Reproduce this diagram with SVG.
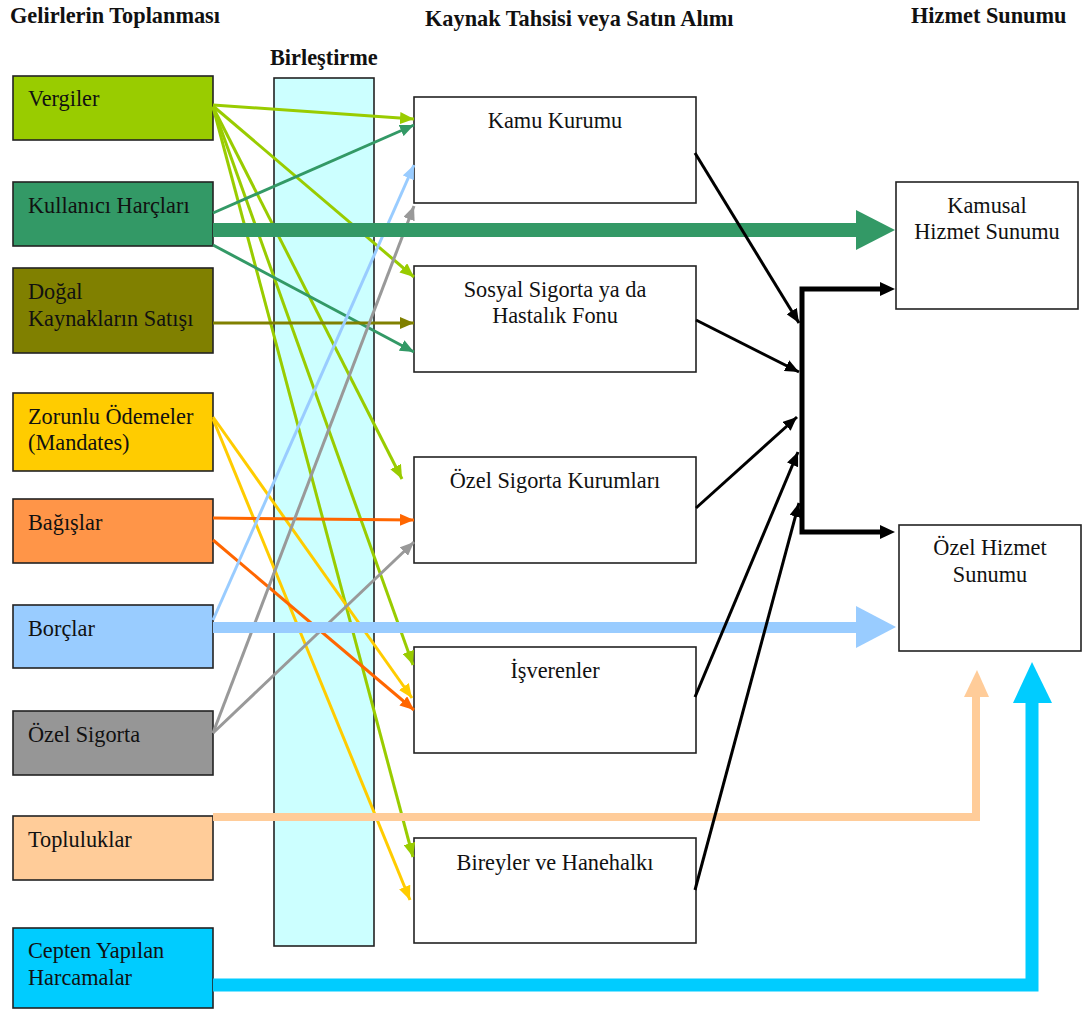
<svg xmlns="http://www.w3.org/2000/svg" width="1084" height="1010" viewBox="0 0 1084 1010">
<style>
text{font-family:"Liberation Serif","Times New Roman",serif;font-size:22.3px;fill:#111}
.t{font-weight:bold}
.m{text-anchor:middle}
.box{stroke:#222;stroke-width:1.6}
.wb{fill:#fff;stroke:#222;stroke-width:1.6}
.ln{fill:none;stroke-width:3}
</style>
<defs>
<marker id="aYG" markerUnits="userSpaceOnUse" markerWidth="14" markerHeight="12" refX="14" refY="6" orient="auto"><path d="M0,0L14,6L0,12z" fill="#99CC00"/></marker>
<marker id="aSG" markerUnits="userSpaceOnUse" markerWidth="14" markerHeight="12" refX="14" refY="6" orient="auto"><path d="M0,0L14,6L0,12z" fill="#339966"/></marker>
<marker id="aOL" markerUnits="userSpaceOnUse" markerWidth="14" markerHeight="12" refX="14" refY="6" orient="auto"><path d="M0,0L14,6L0,12z" fill="#808000"/></marker>
<marker id="aGO" markerUnits="userSpaceOnUse" markerWidth="14" markerHeight="12" refX="14" refY="6" orient="auto"><path d="M0,0L14,6L0,12z" fill="#FFCC00"/></marker>
<marker id="aOR" markerUnits="userSpaceOnUse" markerWidth="14" markerHeight="12" refX="14" refY="6" orient="auto"><path d="M0,0L14,6L0,12z" fill="#FF6600"/></marker>
<marker id="aLB" markerUnits="userSpaceOnUse" markerWidth="14" markerHeight="12" refX="14" refY="6" orient="auto"><path d="M0,0L14,6L0,12z" fill="#99CCFF"/></marker>
<marker id="aGR" markerUnits="userSpaceOnUse" markerWidth="14" markerHeight="12" refX="14" refY="6" orient="auto"><path d="M0,0L14,6L0,12z" fill="#999999"/></marker>
<marker id="aBK" markerUnits="userSpaceOnUse" markerWidth="14" markerHeight="12" refX="14" refY="6" orient="auto"><path d="M0,0L14,6L0,12z" fill="#000"/></marker>
</defs>

<g id="titles">
<text class="t" x="10" y="23">Gelirlerin Toplanması</text>
<text class="t" x="425" y="26">Kaynak Tahsisi veya Satın Alımı</text>
<text class="t" x="911" y="23">Hizmet Sunumu</text>
</g>

<g id="birlestirme">
<rect x="274" y="78" width="100" height="868" fill="#CCFFFF" class="box"/>
<text class="t" x="270" y="65">Birleştirme</text>
</g>

<g id="vergiler"><rect x="13" y="76" width="200" height="64" fill="#99CC00" class="box"/><text x="28" y="106">Vergiler</text></g>
<g id="kullanici"><rect x="13" y="182" width="200" height="64" fill="#339966" class="box"/><text x="28" y="213">Kullanıcı Harçları</text></g>
<g id="dogal"><rect x="13" y="268" width="200" height="85" fill="#808000" class="box"/><text x="28" y="299">Doğal</text><text x="28" y="326">Kaynakların Satışı</text></g>
<g id="zorunlu"><rect x="13" y="393" width="200" height="78" fill="#FFCC00" class="box"/><text x="28" y="424">Zorunlu Ödemeler</text><text x="28" y="450">(Mandates)</text></g>
<g id="bagislar"><rect x="13" y="499" width="200" height="64" fill="#FF9548" class="box"/><text x="28" y="530">Bağışlar</text></g>
<g id="borclar"><rect x="13" y="605" width="200" height="63" fill="#99CCFF" class="box"/><text x="28" y="636">Borçlar</text></g>
<g id="ozelsigorta"><rect x="13" y="711" width="200" height="64" fill="#969696" class="box"/><text x="28" y="742">Özel Sigorta</text></g>
<g id="topluluklar"><rect x="13" y="816" width="200" height="64" fill="#FFCC99" class="box"/><text x="28" y="847">Topluluklar</text></g>
<g id="cepten"><rect x="13" y="928" width="200" height="80" fill="#00CCFF" class="box"/><text x="28" y="958">Cepten Yapılan</text><text x="28" y="985">Harcamalar</text></g>

<g id="kamukurumu"><rect x="414" y="97" width="282" height="106" class="wb"/><text class="m" x="555" y="128">Kamu Kurumu</text></g>
<g id="sosyal"><rect x="414" y="266" width="282" height="106" class="wb"/><text class="m" x="555" y="297">Sosyal Sigorta ya da</text><text class="m" x="555" y="323">Hastalık Fonu</text></g>
<g id="ozelsigortakurumlari"><rect x="414" y="457" width="282" height="106" class="wb"/><text class="m" x="555" y="488">Özel Sigorta Kurumları</text></g>
<g id="isverenler"><rect x="414" y="647" width="282" height="106" class="wb"/><text class="m" x="555" y="678">İşverenler</text></g>
<g id="bireyler"><rect x="414" y="838" width="282" height="105" class="wb"/><text class="m" x="555" y="870">Bireyler ve Hanehalkı</text></g>

<g id="kamusal"><rect x="896" y="182" width="182" height="127" class="wb"/><text class="m" x="987" y="213">Kamusal</text><text class="m" x="987" y="239">Hizmet Sunumu</text></g>
<g id="ozelhizmet"><rect x="899" y="525" width="182" height="126" class="wb"/><text class="m" x="990" y="555">Özel Hizmet</text><text class="m" x="990" y="582">Sunumu</text></g>

<g id="connectors">
<g class="ln" stroke="#99CC00">
<line x1="213" y1="105" x2="414" y2="119" marker-end="url(#aYG)"/>
<line x1="213" y1="106" x2="414" y2="277" marker-end="url(#aYG)"/>
<line x1="213" y1="107" x2="402" y2="479" marker-end="url(#aYG)"/>
<line x1="213" y1="107" x2="413" y2="665" marker-end="url(#aYG)"/>
<line x1="213" y1="107" x2="413" y2="857" marker-end="url(#aYG)"/>
</g>
<g class="ln" stroke="#339966">
<line x1="213" y1="213" x2="414" y2="125" marker-end="url(#aSG)"/>
<line x1="213" y1="245" x2="414" y2="352" marker-end="url(#aSG)"/>
</g>
<line class="ln" stroke="#808000" x1="213" y1="323" x2="414" y2="323" marker-end="url(#aOL)"/>
<g class="ln" stroke="#FFCC00">
<line x1="213" y1="417" x2="412" y2="698" marker-end="url(#aGO)"/>
<line x1="213" y1="419" x2="410" y2="900" marker-end="url(#aGO)"/>
</g>
<g class="ln" stroke="#FF6600">
<line x1="213" y1="518" x2="414" y2="520" marker-end="url(#aOR)"/>
<line x1="213" y1="540" x2="414" y2="710" marker-end="url(#aOR)"/>
</g>
<line class="ln" stroke="#99CCFF" x1="213" y1="620" x2="414" y2="165" marker-end="url(#aLB)"/>
<g class="ln" stroke="#999999">
<line x1="213" y1="733" x2="414" y2="206" marker-end="url(#aGR)"/>
<line x1="213" y1="733" x2="414" y2="542" marker-end="url(#aGR)"/>
</g>

<rect x="213" y="223" width="645" height="14" fill="#339966"/>
<polygon points="856,210 895,230 856,250" fill="#339966"/>
<rect x="213" y="622" width="645" height="11" fill="#99CCFF"/>
<polygon points="856,606 896,627 856,648" fill="#99CCFF"/>
<path d="M213,817H976V697" fill="none" stroke="#FFCC99" stroke-width="8"/>
<polygon points="964,697 977,670 989,697" fill="#FFCC99"/>
<path d="M213,985H1032V702" fill="none" stroke="#00CCFF" stroke-width="13"/>
<polygon points="1013,703 1032,662 1052,703" fill="#00CCFF"/>

<g class="ln" stroke="#000">
<line x1="695" y1="153" x2="799" y2="323" marker-end="url(#aBK)"/>
<line x1="696" y1="320" x2="799" y2="372" marker-end="url(#aBK)"/>
<line x1="696" y1="508" x2="797" y2="417" marker-end="url(#aBK)"/>
<line x1="695" y1="697" x2="798" y2="452" marker-end="url(#aBK)"/>
<line x1="695" y1="890" x2="799" y2="503" marker-end="url(#aBK)"/>
</g>
<path d="M882,289H802V532H882" fill="none" stroke="#000" stroke-width="5"/>
<polygon points="880,282 895,289 880,296" fill="#000"/>
<polygon points="880,525 895,532 880,539" fill="#000"/>
</g>
</svg>
